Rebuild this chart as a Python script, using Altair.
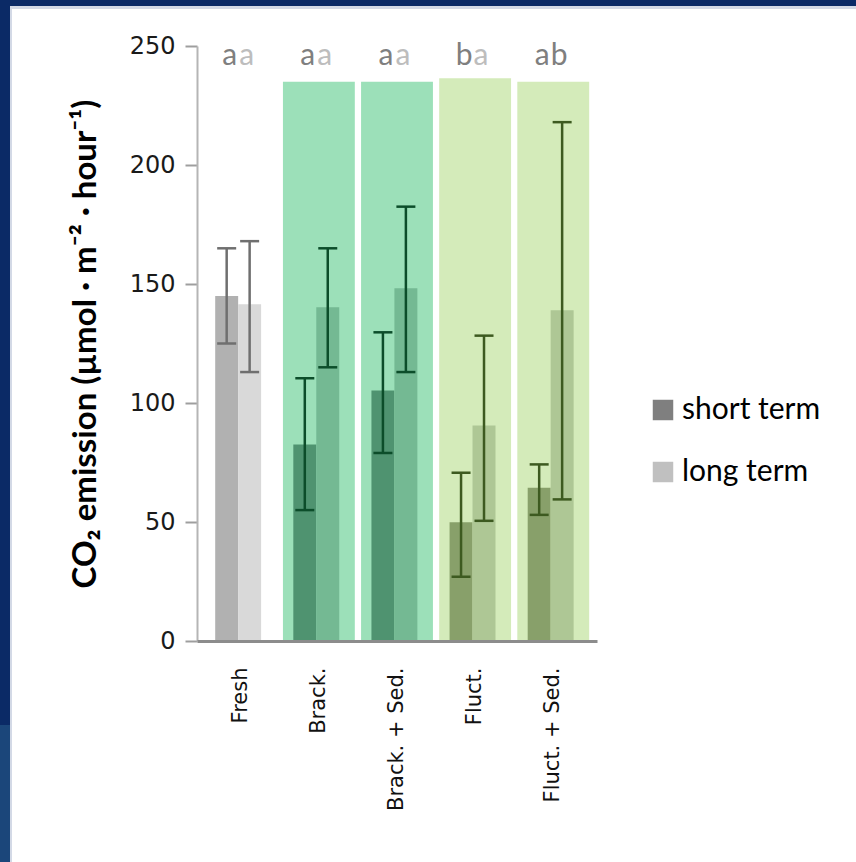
import altair as alt
import pandas as pd

# ---- data -------------------------------------------------------------
groups = ["Fresh", "Brack.", "Brack. + Sed.", "Fluct.", "Fluct. + Sed."]
terms = ["short term", "long term"]

short_mean = [145.0, 82.6, 105.2, 49.9, 64.4]
short_lo = [125.0, 55.0, 79.0, 27.0, 53.0]
short_hi = [165.0, 110.4, 129.7, 70.7, 74.2]

long_mean = [141.5, 140.2, 148.2, 90.5, 139.0]
long_lo = [113.0, 115.0, 113.0, 50.5, 59.5]
long_hi = [168.0, 165.0, 182.5, 128.3, 218.0]

short_letters = ["a", "a", "a", "b", "a"]
long_letters = ["a", "a", "a", "a", "b"]

panel_groups = ["Brack.", "Brack. + Sed.", "Fluct.", "Fluct. + Sed."]
panel_top = [235.0, 235.0, 236.5, 235.0]

letter_level = 246

# ---- styling ----------------------------------------------------------
def family(g):
    if g.startswith("Brack"):
        return "brack"
    if g.startswith("Fluct"):
        return "fluct"
    return "fresh"

bar_fill = {
    ("fresh", "short term"): "#b1b1b1", ("fresh", "long term"): "#d9d9d9",
    ("brack", "short term"): "#4f9370", ("brack", "long term"): "#74b993",
    ("fluct", "short term"): "#88a06a", ("fluct", "long term"): "#aec795",
}
panel_fill = {"brack": "#9ce0b9", "fluct": "#d4ebba"}
err_color = {"fresh": "#6f6f6f", "brack": "#0c4d2a", "fluct": "#3d5a20"}
LETTER_DARK, LETTER_LIGHT = "#7f7f7f", "#bdbdbd"

rows = []
for i, g in enumerate(groups):
    for t, m, lo, hi, let in (
        ("short term", short_mean[i], short_lo[i], short_hi[i], short_letters[i]),
        ("long term", long_mean[i], long_lo[i], long_hi[i], long_letters[i]),
    ):
        fam = family(g)
        rows.append({
            "group": g, "term": t, "mean": m, "lo": lo, "hi": hi,
            "letter": let,
            "fill": bar_fill[(fam, t)],
            "err": err_color[fam],
            "lcolor": LETTER_DARK if (t == "short term" or let == "b") else LETTER_LIGHT,
        })
df = pd.DataFrame(rows)

panels = pd.DataFrame({
    "group": panel_groups,
    "top": panel_top,
    "fill": [panel_fill[family(g)] for g in panel_groups],
})

legend_df = pd.DataFrame({"term": terms, "group": [groups[0]] * 2, "zero": [0, 0]})

# ---- shared encodings -------------------------------------------------
x_enc = alt.X(
    "group:N", sort=groups,
    scale=alt.Scale(domain=groups, paddingInner=0.08, paddingOuter=0.1),
    axis=alt.Axis(
        title=None, labelAngle=-90, labelAlign="right", labelBaseline="middle",
        labelFont="DejaVu Sans", labelFontSize=21, labelColor="#111111",
        labelPadding=26, ticks=False, domainColor="#8c8c8c", domainWidth=3,
        zindex=1,
    ),
)
x_plain = alt.X("group:N", sort=groups)
off_enc = alt.XOffset(
    "term:N", sort=terms,
    scale=alt.Scale(domain=terms, paddingInner=0, paddingOuter=0.565, align=0.4),
)
y_scale = alt.Scale(domain=[0, 250], nice=False, zero=True)

base = alt.Chart(df)

panel_layer = alt.Chart(panels).mark_bar(width={"band": 1}).encode(
    x=x_enc,
    y=alt.Y("top:Q", scale=y_scale,
            axis=alt.Axis(
                values=[0, 50, 100, 150, 200, 250],
                title="CO\u2082 emission (\u00b5mol \u00b7 m\u207b\u00b2 \u00b7 hour\u207b\u00b9)",
                titleFont="Lato", titleFontWeight="bold", titleFontSize=33,
                titleColor="#000000", titlePadding=27,
                labelFont="DejaVu Sans", labelFontSize=24, labelColor="#1a1a1a",
                labelPadding=10, tickSize=12, tickColor="#9e9e9e", tickWidth=2,
                domainColor="#b5b5b5", domainWidth=2, grid=False,
            )),
    y2=alt.datum(0),
    fill=alt.Fill("fill:N", scale=None),
)

bars = base.mark_bar().encode(
    x=x_plain, xOffset=off_enc,
    y=alt.Y("mean:Q"),
    fill=alt.Fill("fill:N", scale=None),
)

err_rule = base.mark_rule(strokeWidth=2.5, opacity=1).encode(
    x=x_plain, xOffset=off_enc,
    y="lo:Q", y2="hi:Q",
    stroke=alt.Stroke("err:N", scale=None),
)
cap_lo = base.mark_tick(thickness=2.5, size=19, opacity=1).encode(
    x=x_plain, xOffset=off_enc, y="lo:Q",
    fill=alt.Fill("err:N", scale=None),
)
cap_hi = base.mark_tick(thickness=2.5, size=19, opacity=1).encode(
    x=x_plain, xOffset=off_enc, y="hi:Q",
    fill=alt.Fill("err:N", scale=None),
)

letters_short = base.transform_filter(alt.datum.term == "short term").mark_text(
    font="Lato", fontSize=30, baseline="middle", dx=3
).encode(
    x=x_plain, xOffset=off_enc, y=alt.datum(letter_level), text="letter:N",
    fill=alt.Fill("lcolor:N", scale=None),
)
letters_long = base.transform_filter(alt.datum.term == "long term").mark_text(
    font="Lato", fontSize=30, baseline="middle", dx=-3
).encode(
    x=x_plain, xOffset=off_enc, y=alt.datum(letter_level), text="letter:N",
    fill=alt.Fill("lcolor:N", scale=None),
)

# zero-height bars that carry the term legend
legend_layer = alt.Chart(legend_df).mark_bar(opacity=1).encode(
    x=x_plain, y=alt.Y("zero:Q"),
    color=alt.Color(
        "term:N", sort=terms,
        scale=alt.Scale(domain=terms, range=["#7f7f7f", "#c0c0c0"]),
        legend=alt.Legend(
            title=None, orient="none", legendX=451, legendY=349,
            symbolType="square", symbolSize=420, symbolStrokeWidth=0,
            symbolOpacity=1,
            labelFont="Lato", labelFontSize=30,
            labelColor="#000000", labelOffset=4, rowPadding=32,
            labelLimit=300,
        ),
    ),
)

# slide frame around the chart
def band(x1, x2, y1, y2, c):
    return alt.Chart(pd.DataFrame({"k": [0]})).mark_rect(color=c).encode(
        x=alt.value(x1), x2=alt.value(x2), y=alt.value(y1), y2=alt.value(y2)
    )

frame = [
    band(-197, 659, -46, -40, "#0b2a66"),
    band(-197, 659, -40, -37, "#d3d9e6"),
    band(-197, -187, -46, 679, "#0b2a66"),
    band(-197, -187, 679, 816, "#1b467a"),
    band(-187, -185, -40, 816, "#d3d9e6"),
]

chart = alt.layer(
    legend_layer, panel_layer, bars, err_rule, cap_lo, cap_hi,
    letters_short, letters_long, *frame,
).properties(
    width=400, height=595,
    autosize=alt.AutoSizeParams(type="none"),
    padding={"left": 197, "top": 46, "right": 259, "bottom": 221},
    background="#ffffff",
).configure_view(stroke=None)

chart.save("out.html", embed_options={"renderer": "svg", "actions": False})
